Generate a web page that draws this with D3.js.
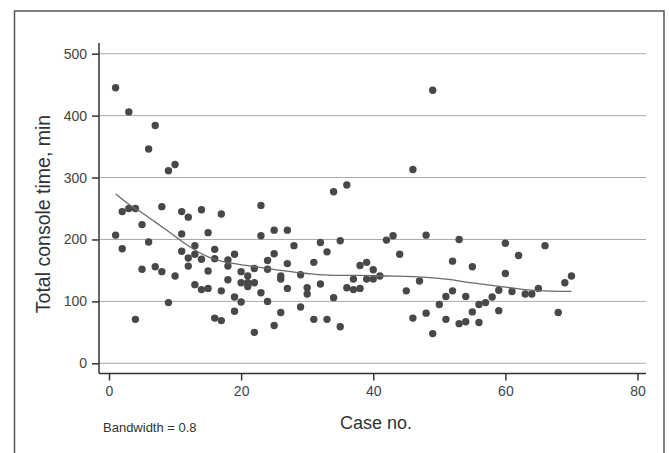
<!DOCTYPE html>
<html>
<head>
<meta charset="utf-8">
<script src="https://cdn.jsdelivr.net/npm/d3@7"></script>
<style>
  body { margin: 0; background: #fff; }
  svg { display: block; font-family: Arial, "Liberation Sans", sans-serif; }
</style>
</head>
<body>
<svg id="chart"></svg>
<script>
// case number of each operation, and its console time (min)
const caseNo = [1,1, 2,2, 3,3, 4,4, 5,5, 6,6, 7,7, 8,8, 9,9, 10,10,
  11,11,11, 12,12,12, 13,13,13, 14,14,14, 15,15,15, 16,16,16, 17,17,17,
  18,18,18, 19,19,19, 20,20,20, 21,21,21, 22,22,22, 23,23,23, 24,24,24,
  25,25,25, 26,26,26, 27,27,27, 28, 29,29, 30,30, 31,31, 32,32, 33,33,
  34,34, 35,35, 36,36, 37,37, 38,38, 39,39, 40,40, 41, 42, 43, 44, 45,
  46,46, 47, 48,48, 49,49, 50, 51,51, 52,52, 53,53, 54,54, 55,55, 56,56,
  57, 58, 59,59, 60,60, 61, 62, 63, 64, 65, 66, 68, 69, 70];
const consoleTime = [445,207, 245,185, 406,250, 250,71, 224,152, 346,196, 384,156, 253,148, 311,98, 321,141,
  245,209,181, 236,170,157, 190,176,127, 248,168,119, 211,149,121, 184,169,73, 241,117,69,
  167,157,135, 176,107,84, 148,130,99, 141,130,124, 153,130,50, 255,206,114, 166,152,100,
  215,177,61, 141,136,82, 215,161,121, 190, 143,91, 122,112, 163,71, 195,128, 180,71,
  277,106, 198,59, 288,122, 136,119, 158,121, 163,136, 151,136, 141, 199, 206, 176, 117,
  313,73, 133, 207,81, 441,48, 95, 108,71, 165,117, 200,64, 108,67, 156,83, 95,66,
  98, 107, 118,85, 194,145, 116, 174, 112, 112, 121, 190, 82, 130, 141];

// lowess smooth
const smoothCase = [1, 3, 5, 7, 9, 11, 13, 15, 17, 19, 22, 26, 30, 34, 38, 42, 46, 50, 55, 60, 63, 66, 70];
const smoothTime = [274, 257, 243, 228, 213, 197, 183, 172, 165, 161, 156, 150, 145, 142, 142, 141, 140, 137, 130, 123, 119, 117, 116];

const xTicks = [0, 20, 40, 60, 80];
const yTicks = [0, 100, 200, 300, 400, 500];

const width = 669, height = 453;
const svg = d3.select('#chart')
  .attr('width', width)
  .attr('height', height);

// outer frame (bottom edge runs off the picture)
svg.append('path')
  .attr('d', 'M14.5,470 V11 H664 V470')
  .attr('fill', 'none')
  .attr('stroke', '#555')
  .attr('stroke-width', 1.5);

const plot = {left: 99, right: 646, top: 43, bottom: 373.5};

const xScale = d3.scaleLinear()
  .domain([0, 80])
  .range([109, 637.5]);

const yScale = d3.scaleLinear()
  .domain([0, 500])
  .range([363.3, 53.7]);

// gridlines
svg.append('g')
  .selectAll('line')
  .data(yTicks)
  .join('line')
    .attr('x1', plot.left)
    .attr('x2', plot.right)
    .attr('y1', d => yScale(d))
    .attr('y2', d => yScale(d))
    .attr('stroke', '#aaa')
    .attr('stroke-width', 1);

// axes
const yAxis = d3.axisLeft(yScale)
  .tickValues(yTicks)
  .tickSize(7)
  .tickPadding(5);

const yG = svg.append('g')
  .attr('transform', `translate(${plot.left},0)`)
  .call(yAxis);
yG.select('.domain').remove();

const xAxis = d3.axisBottom(xScale)
  .tickValues(xTicks)
  .tickSize(7)
  .tickPadding(6);

const xG = svg.append('g')
  .attr('transform', `translate(0,${plot.bottom})`)
  .call(xAxis);
xG.select('.domain').remove();

[yG, xG].forEach(g => {
  g.selectAll('.tick line').attr('stroke', '#333').attr('stroke-width', 1.5);
  g.selectAll('.tick text')
    .attr('fill', '#444')
    .style('font-size', '14px')
    .style('font-family', 'Arial, "Liberation Sans", sans-serif');
});

svg.append('line')
  .attr('x1', plot.left).attr('x2', plot.left)
  .attr('y1', plot.top).attr('y2', plot.bottom)
  .attr('stroke', '#333').attr('stroke-width', 1.5);
svg.append('line')
  .attr('x1', plot.left).attr('x2', plot.right)
  .attr('y1', plot.bottom).attr('y2', plot.bottom)
  .attr('stroke', '#333').attr('stroke-width', 1.5);

// points
svg.append('g')
  .selectAll('circle')
  .data(caseNo.map((c, i) => [c, consoleTime[i]]))
  .join('circle')
    .attr('cx', d => xScale(d[0]))
    .attr('cy', d => yScale(d[1]))
    .attr('r', 3.7)
    .attr('fill', '#484848');

// smooth line
const line = d3.line()
  .x(d => xScale(d[0]))
  .y(d => yScale(d[1]))
  .curve(d3.curveMonotoneX);

svg.append('path')
  .datum(smoothCase.map((c, i) => [c, smoothTime[i]]))
  .attr('d', line)
  .attr('fill', 'none')
  .attr('stroke', '#6a6a6a')
  .attr('stroke-width', 1.3);

// labels
svg.append('text')
  .attr('transform', 'translate(50,214) rotate(-90)')
  .attr('text-anchor', 'middle')
  .attr('fill', '#333')
  .style('font-size', '19.5px')
  .text('Total console time, min');

svg.append('text')
  .attr('x', 376)
  .attr('y', 429)
  .attr('text-anchor', 'middle')
  .attr('fill', '#333')
  .style('font-size', '18px')
  .text('Case no.');

svg.append('text')
  .attr('x', 103)
  .attr('y', 432)
  .attr('fill', '#333')
  .style('font-size', '13px')
  .text('Bandwidth = 0.8');
</script>
</body>
</html>
